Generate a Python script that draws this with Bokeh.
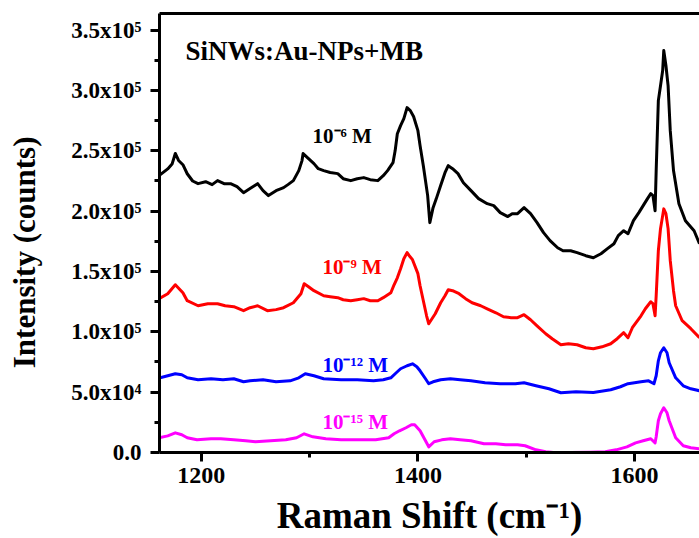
import math
from bokeh.plotting import figure
from bokeh.models import Range1d, LinearAxis, FixedTicker, Label
from bokeh.embed import file_html
from bokeh.resources import INLINE

FONT = "Liberation Serif"

# ---- data (Raman shift in cm^-1, intensity in thousands of counts) ----
shift_1e6 = [1161, 1169, 1173, 1176, 1179, 1183, 1187, 1192, 1197, 1204, 1210, 1215, 1221, 1227, 1233,
             1239, 1245, 1252, 1257, 1262, 1269, 1276, 1280, 1285, 1290, 1293, 1294, 1299, 1304, 1308,
             1313, 1319, 1326, 1331, 1338, 1344, 1350, 1356, 1363, 1368, 1372, 1377, 1379, 1381, 1384,
             1387, 1390, 1393, 1396, 1400, 1402, 1405, 1409, 1411, 1414, 1417, 1421, 1425, 1428, 1432,
             1437, 1442, 1449, 1456, 1464, 1470, 1476, 1483, 1487, 1492, 1498, 1504, 1510, 1516, 1522,
             1529, 1534, 1541, 1547, 1555, 1562, 1569, 1575, 1581, 1585, 1590, 1594, 1599, 1604, 1608,
             1612, 1615, 1617, 1619, 1620, 1622, 1624, 1626, 1627, 1629, 1631, 1633, 1636, 1641, 1647,
             1655, 1660]
counts_1e6 = [229.4, 235, 239, 247.8, 242, 238.5, 231, 225, 222.8, 224.4, 222, 225.3, 222.8, 222.8, 220.3,
              215.3, 218.7, 222.8, 217, 212.9, 217, 219.5, 222, 225.3, 233.6, 241.9, 247.7, 243.5, 239.4, 235.2,
              233.6, 232, 231.1, 226.9, 225.3, 226.9, 227.8, 226.1, 225.3, 229.4, 233.6, 240.2, 250.2, 264.2, 270.9,
              276.7, 285.8, 283.3, 278.4, 266.7, 254.3, 237.7, 212.9, 190.5, 202.9, 210.4, 221.2, 231.9, 237.7, 235.2,
              231.1, 223.6, 217, 210.4, 206.2, 204.6, 198.8, 195.5, 197.9, 197.9, 202.9, 197.9, 190.5, 182.2, 175.6,
              169.7, 167.2, 167.2, 165.6, 163.1, 161.4, 164.7, 168.9, 173, 179.7, 183.8, 181.3, 192.1, 198.8, 204.6,
              210.4, 214.5, 212.9, 200.4, 233.6, 291.6, 304, 316.5, 333.1, 320.7, 304, 266.7, 233.6, 206.2, 192.1,
              183.8, 173]

shift_1e9 = [1161, 1169, 1176, 1183, 1187, 1197, 1206, 1215, 1222, 1230, 1239, 1245, 1252, 1261, 1269,
             1276, 1285, 1292, 1295, 1299, 1304, 1313, 1319, 1326, 1331, 1338, 1344, 1350, 1356, 1363,
             1368, 1375, 1378, 1381, 1384, 1387, 1390, 1392, 1395, 1400, 1402, 1405, 1408, 1410, 1413,
             1416, 1421, 1425, 1428, 1432, 1438, 1444, 1450, 1458, 1464, 1472, 1479, 1486, 1492, 1498,
             1504, 1510, 1518, 1524, 1532, 1539, 1547, 1555, 1562, 1570, 1578, 1584, 1590, 1594, 1598,
             1606, 1610, 1615, 1617, 1619, 1620, 1622, 1624, 1626, 1627, 1629, 1631, 1633, 1636, 1638,
             1644, 1652, 1660]
counts_1e9 = [127.5, 131.6, 139, 132.4, 125.8, 121.6, 123.3, 123.3, 121.6, 120.8, 117.5, 120, 121.6, 117.5, 118.4,
              120, 124.1, 131.6, 139.9, 137.4, 134.1, 129.9, 129.1, 128.3, 126.6, 125.8, 126.6, 127.5, 125.8, 125.8,
              128.3, 132.4, 139, 144.8, 152.3, 160.6, 165.6, 163.1, 159.8, 148.2, 138.2, 125.8, 113.3, 106.7, 110.8,
              115, 124.1, 129.9, 134.9, 134.1, 131.6, 127.5, 124.1, 121.6, 119.1, 115.8, 112.5, 111.7, 111.7, 114.2,
              110, 105, 98.4, 94.3, 89.3, 90.1, 89.3, 86.8, 86, 87.6, 90.1, 94.3, 99.3, 95.1, 103.4,
              113.3, 119.1, 124.9, 123.3, 113.3, 129.9, 167.2, 185.5, 196.3, 201.9, 197.9, 185.5, 159, 134.1, 121.6,
              109.2, 102.6, 95.1]

shift_1e12 = [1161, 1169, 1176, 1182, 1187, 1197, 1209, 1220, 1230, 1239, 1245, 1257, 1269, 1282, 1290,
              1296, 1304, 1313, 1329, 1344, 1359, 1368, 1375, 1380, 1384, 1390, 1395, 1399, 1402, 1407,
              1410, 1414, 1421, 1430, 1439, 1449, 1462, 1476, 1490, 1498, 1509, 1521, 1532, 1546, 1562,
              1578, 1587, 1594, 1606, 1613, 1618, 1620, 1622, 1624, 1627, 1630, 1632, 1638, 1645, 1652,
              1660]
counts_1e12 = [61.7, 63.6, 65.3, 64.4, 61.9, 60.3, 61.1, 60.3, 61.1, 58.6, 59.4, 60.3, 58.6, 59.4, 61.9,
               65.3, 63.6, 61.1, 60.3, 60.3, 59.4, 60.3, 61.9, 66.1, 69.4, 71.9, 73.5, 71.1, 67.7, 61.1,
               57, 58.6, 60.3, 61.1, 60.3, 59.4, 57.8, 57, 57, 57.8, 55.3, 52.8, 49.5, 50.3, 49.8,
               52, 54.5, 57, 58.6, 59.4, 57, 63.6, 76, 82.7, 86.8, 82.7, 74.4, 61.9, 55.3, 52.8,
               51.2]

shift_1e15 = [1161, 1169, 1176, 1182, 1187, 1196, 1209, 1218, 1230, 1241, 1250, 1264, 1278, 1288, 1295,
              1303, 1315, 1329, 1347, 1361, 1373, 1378, 1383, 1389, 1394, 1397, 1402, 1406, 1410, 1415,
              1422, 1430, 1439, 1449, 1461, 1472, 1481, 1492, 1499, 1509, 1518, 1525, 1541, 1559, 1573,
              1583, 1593, 1601, 1608, 1615, 1619, 1620, 1622, 1624, 1627, 1630, 1632, 1638, 1645, 1652,
              1660]
counts_1e15 = [12.2, 13.8, 16.3, 14.7, 12.2, 10.5, 11.4, 11.4, 10.5, 9.7, 8.9, 9.7, 10.5, 12.2, 15.5,
               13, 11.4, 10.5, 10.5, 10.5, 12.2, 15.5, 18, 20.5, 23, 23, 18, 11.4, 4.7, 8.9,
               10.5, 11.4, 10.5, 9.7, 7.2, 7.2, 6.4, 6.4, 5.6, 2.2, 0.6, 0.0, 0.0, 0.2, 0.6,
               2.2, 4.7, 8, 9.7, 11.4, 8, 13, 26.3, 32.1, 37.1, 32.9, 26.3, 12.2, 5.6, 3.9,
               3.1]

series = [
    (shift_1e6, counts_1e6, "#000000", "10\u207b\u2076 M"),
    (shift_1e9, counts_1e9, "#ff0000", "10\u207b\u2079 M"),
    (shift_1e12, counts_1e12, "#0000ff", "10\u207b\u00b9\u00b2 M"),
    (shift_1e15, counts_1e15, "#ff00ff", "10\u207b\u00b9\u2075 M"),
]

x_ticks = [1200, 1400, 1600]
x_minor = [1300, 1500]
y_ticks = [0, 50000, 100000, 150000, 200000, 250000, 300000, 350000]
y_minor = [25000, 75000, 125000, 175000, 225000, 275000, 325000]
y_tick_labels = ["0.0", "5.0x10\u2074", "1.0x10\u2075", "1.5x10\u2075", "2.0x10\u2075",
                 "2.5x10\u2075", "3.0x10\u2075", "3.5x10\u2075"]

X0, X1 = 1161.4, 1660
Y0, Y1 = 0, 363800

p = figure(width=699, height=538, output_backend="svg", toolbar_location=None,
           x_range=Range1d(X0, X1), y_range=Range1d(Y0, Y1),
           min_border_left=159, min_border_right=0, min_border_top=13, min_border_bottom=86)
p.xgrid.visible = False
p.ygrid.visible = False
p.outline_line_color = None
p.background_fill_color = "white"
p.border_fill_color = "white"

for ax in (p.xaxis[0], p.yaxis[0]):
    ax.axis_line_width = 3
    ax.axis_line_color = "black"
    ax.major_tick_line_width = 3
    ax.major_tick_out = 9
    ax.major_tick_in = 0
    ax.minor_tick_line_width = 3
    ax.minor_tick_out = 5
    ax.minor_tick_in = 0
    ax.major_label_text_font = FONT
    ax.major_label_text_font_style = "bold"
    ax.major_label_text_color = "black"
    ax.axis_label_text_font = FONT
    ax.axis_label_text_font_style = "bold"
    ax.axis_label_text_color = "black"

p.xaxis[0].ticker = FixedTicker(ticks=x_ticks, minor_ticks=x_minor)
p.xaxis[0].major_label_text_font_size = "24px"
p.xaxis[0].major_label_standoff = 6
p.xaxis[0].axis_label = "Raman Shift (cm\u207b\u00b9)"
p.xaxis[0].axis_label_text_font_size = "37px"
p.xaxis[0].axis_label_standoff = 9

p.yaxis[0].ticker = FixedTicker(ticks=y_ticks, minor_ticks=y_minor)
p.yaxis[0].major_label_text_font_size = "23px"
p.yaxis[0].major_label_standoff = 9
p.yaxis[0].major_label_overrides = {v: lab for v, lab in zip(y_ticks, y_tick_labels)}
p.yaxis[0].axis_label = "Intensity (counts)" + "\u00a0" * 5
p.yaxis[0].axis_label_text_font_size = "31px"
p.yaxis[0].axis_label_standoff = 26

top = LinearAxis(ticker=FixedTicker(ticks=[]), axis_line_width=3, axis_line_color="black",
                 major_tick_line_color=None, minor_tick_line_color=None,
                 major_label_text_font_size="0px")
p.add_layout(top, "above")

for xs, ys, col, _ in series:
    p.line(xs, [v * 1000 for v in ys], line_color=col, line_width=3, line_join="round")

label_pos = [(1302.7, 262600), (1311.9, 153400), (1311.9, 72700), (1311.9, 24900)]
for (xs, ys, col, txt), (lx, ly) in zip(series, label_pos):
    p.add_layout(Label(x=lx, y=ly, text=txt, text_color=col, text_font=FONT,
                       text_font_style="bold", text_font_size="21px",
                       text_baseline="alphabetic", text_align="left"))

p.add_layout(Label(x=1185.4, y=333100, text="SiNWs:Au-NPs+MB", text_color="black",
                   text_font=FONT, text_font_style="bold", text_font_size="27px",
                   text_baseline="alphabetic", text_align="left"))

open("out.html", "w").write(file_html(p, INLINE))
